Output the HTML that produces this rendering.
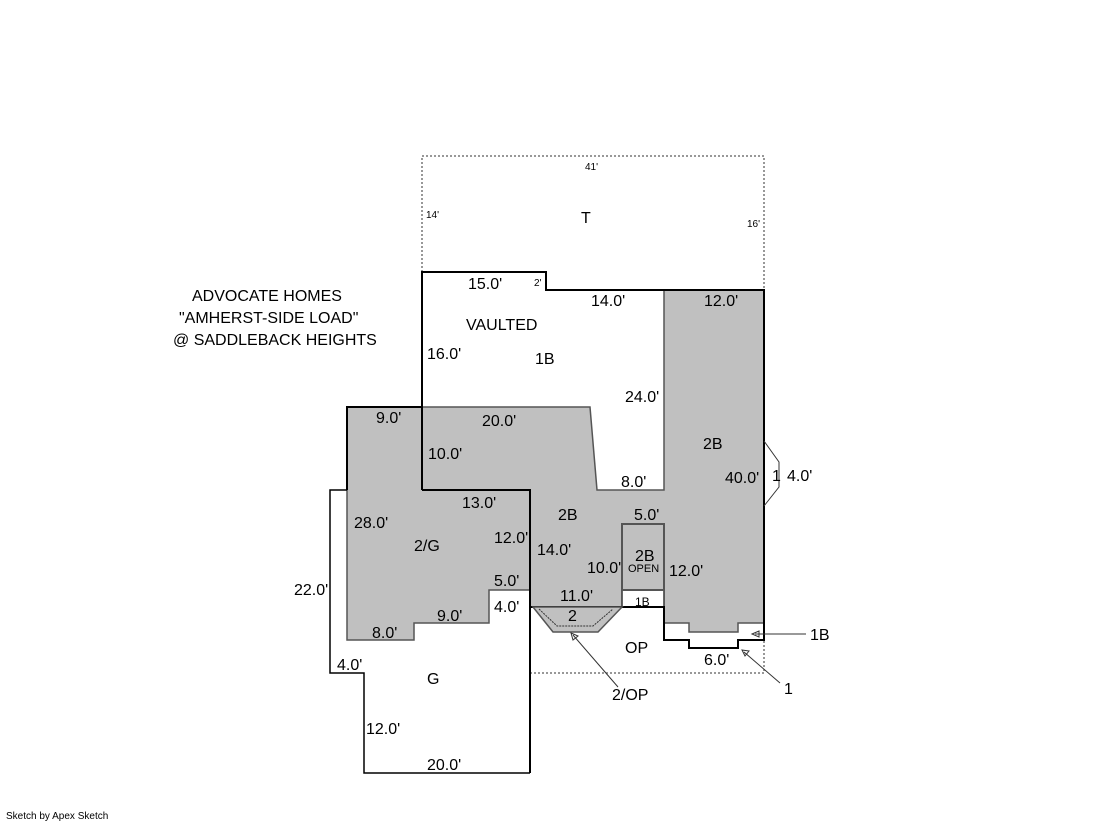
<!DOCTYPE html>
<html><head><meta charset="utf-8"><style>
html,body{margin:0;padding:0;background:#fff;}
svg{display:block;}
text{font-family:"Liberation Sans",Arial,sans-serif;font-size:16px;fill:#000;}
.s{font-size:10px;}
</style></head><body>
<svg width="1119" height="821" viewBox="0 0 1119 821" xmlns="http://www.w3.org/2000/svg">
<path d="M422,272 V156 H764 V290" fill="none" stroke="#777" stroke-width="1.5" stroke-dasharray="2,2"/>
<path d="M530,673 H764 V640" fill="none" stroke="#777" stroke-width="1.5" stroke-dasharray="2,2"/>
<polygon points="347,407 590,407 597,490 664,490 664,290 764,290 764,623 738,623 738,632 689,632 689,623 664,623 664,607 530,607 530,590 489,590 489,623 414,623 414,640 347,640" fill="#c0c0c0" stroke="#555" stroke-width="1.5"/>
<rect x="622" y="590" width="42" height="17" fill="#fff" stroke="#333" stroke-width="1.5"/>
<rect x="622" y="524" width="42" height="66" fill="none" stroke="#555" stroke-width="2"/>
<path d="M422,490 V272 H546 V290 H764 V623" fill="none" stroke="#000" stroke-width="2"/>
<path d="M347,490 V407 H422" fill="none" stroke="#000" stroke-width="2"/>
<path d="M422,490 H530 V773" fill="none" stroke="#000" stroke-width="2"/>
<path d="M530,607 H664 V640 H689 V648 H738 V640 H764 V623" fill="none" stroke="#000" stroke-width="2"/>
<path d="M347,490 H330 V673 H364 V773 H530" fill="none" stroke="#000" stroke-width="1.5"/>
<polygon points="533,607 553,632 598,632 622,607" fill="#c0c0c0" stroke="#555" stroke-width="1.5"/>
<path d="M539,609 L557,626 H593 L613,609" fill="none" stroke="#333" stroke-width="1" stroke-dasharray="2,1"/>
<path d="M764,441 L779,462 V487 L764,506" fill="none" stroke="#333" stroke-width="1"/>
<line x1="806" y1="634" x2="755" y2="634" stroke="#333"/>
<polygon points="752,634 759,631 759,637" fill="none" stroke="#333"/>
<line x1="780" y1="683" x2="744" y2="652" stroke="#333"/>
<polygon points="742,650 749,651 745,656" fill="none" stroke="#333"/>
<line x1="618" y1="687" x2="573" y2="635" stroke="#333"/>
<polygon points="571,633 578,636 573,640" fill="none" stroke="#333"/>
<text x="192" y="301">ADVOCATE HOMES</text>
<text x="179" y="323">"AMHERST-SIDE LOAD"</text>
<text x="173" y="345">@ SADDLEBACK HEIGHTS</text>
<text class="s" x="585" y="170">41'</text>
<text class="s" x="426" y="218">14'</text>
<text class="s" x="747" y="227">16'</text>
<text x="581" y="223">T</text>
<text x="468" y="289">15.0'</text>
<text class="s" x="534" y="286">2'</text>
<text x="591" y="306">14.0'</text>
<text x="704" y="306">12.0'</text>
<text x="466" y="330">VAULTED</text>
<text x="427" y="359">16.0'</text>
<text x="535" y="364">1B</text>
<text x="625" y="402">24.0'</text>
<text x="376" y="423">9.0'</text>
<text x="482" y="426">20.0'</text>
<text x="428" y="459">10.0'</text>
<text x="703" y="449">2B</text>
<text x="725" y="483">40.0'</text>
<text x="772" y="481">1</text>
<text x="787" y="481">4.0'</text>
<text x="621" y="487">8.0'</text>
<text x="462" y="508">13.0'</text>
<text x="558" y="520">2B</text>
<text x="634" y="520">5.0'</text>
<text x="354" y="528">28.0'</text>
<text x="414" y="551">2/G</text>
<text x="494" y="543">12.0'</text>
<text x="537" y="555">14.0'</text>
<text x="635" y="561">2B</text>
<text x="628" y="572" style="font-size:11px">OPEN</text>
<text x="587" y="573">10.0'</text>
<text x="669" y="576">12.0'</text>
<text x="494" y="586">5.0'</text>
<text x="294" y="595">22.0'</text>
<text x="560" y="601">11.0'</text>
<text x="635" y="606" style="font-size:12px">1B</text>
<text x="494" y="612">4.0'</text>
<text x="437" y="621">9.0'</text>
<text x="568" y="621">2</text>
<text x="372" y="638">8.0'</text>
<text x="810" y="640">1B</text>
<text x="625" y="653">OP</text>
<text x="704" y="665">6.0'</text>
<text x="337" y="670">4.0'</text>
<text x="427" y="684">G</text>
<text x="784" y="694">1</text>
<text x="612" y="700">2/OP</text>
<text x="366" y="734">12.0'</text>
<text x="427" y="770">20.0'</text>
<text x="6" y="819" style="font-size:10px">Sketch by Apex Sketch</text>
</svg>
</body></html>
